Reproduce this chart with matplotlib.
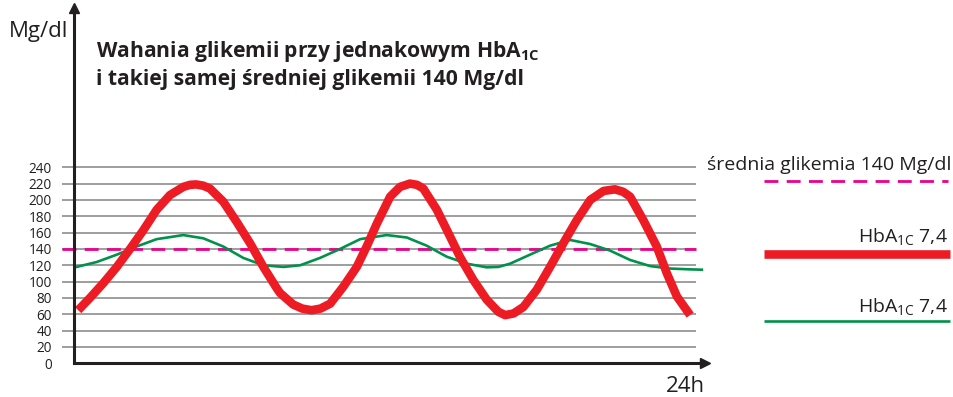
import matplotlib

matplotlib.use("Agg")
import matplotlib.pyplot as plt
from matplotlib.lines import Line2D

plt.rcParams["font.family"] = ["Open Sans", "DejaVu Sans"]
plt.rcParams["mathtext.fontset"] = "custom"
plt.rcParams["mathtext.rm"] = "Open Sans"
plt.rcParams["mathtext.bf"] = "Open Sans:bold"

# hours on the time axis, values in Mg/dl
red_hours = [0.16, 0.61, 1.12, 1.64, 2.15, 2.66, 3.17, 3.68, 4.19, 4.45, 4.68, 4.95,
             5.21, 5.72, 6.24, 6.75, 7.26, 7.77, 7.90, 8.40, 8.75, 9.11, 9.45, 9.82,
             10.33, 10.84, 11.22, 11.61, 12.12, 12.50, 12.88, 13.15, 13.39, 13.91,
             14.42, 14.80, 15.31, 15.82, 16.27, 16.53, 16.85, 17.23, 17.74, 18.25,
             18.76, 19.27, 19.79, 20.30, 20.74, 21.05, 21.32, 21.83, 22.34, 22.73,
             23.11, 23.62]
red_values = [65, 80, 98, 118, 140, 163, 188, 206, 216, 218.5, 219, 217.5,
              214, 198, 173, 147, 118, 92, 86, 72, 67, 65, 67, 73,
              94, 118, 143, 171, 204, 216, 220, 218.5, 214, 188,
              155, 130, 102, 78, 63, 59, 61, 69, 90, 118,
              147, 175, 200, 211, 213, 210, 204, 175, 143, 110,
              82, 59]

green_hours = [0.10, 0.87, 1.64, 2.40, 3.17, 4.19, 4.96, 5.72, 6.49, 7.26, 8.03,
               8.67, 9.43, 10.20, 10.97, 11.99, 12.76, 13.52, 14.29, 15.06, 15.82,
               16.27, 16.72, 17.48, 18.25, 19.02, 19.79, 20.55, 21.32, 22.09,
               22.85, 23.62, 24.07]
green_values = [118, 124, 133, 143, 152, 157, 153, 143, 129, 120, 118,
                120, 129, 140, 152, 157, 154, 144, 130.5, 122, 117.5,
                118, 122, 133, 144, 151, 146, 138, 126.5, 119,
                116, 115, 114.6]

mean_glucose = 140
y_ticks = [0, 20, 40, 60, 80, 100, 120, 140, 160, 180, 200, 220, 240]

RED = "#ED1C24"
GREEN = "#00924A"
MAGENTA = "#EC008C"
GRID = "#8e8e8e"
INK = "#231f20"

W, H = 954, 397
fig = plt.figure(figsize=(W / 100, H / 100), dpi=100)


def fx(px):
    return px / W


def fy(py):
    return 1 - py / H


ax = fig.add_axes([fx(74), fy(363.3), fx(705) - fx(74), fy(8) - fy(363.3)])
ax.set_xlim(0, 24.19)
ax.set_ylim(0, 435)
for side in ["top", "right", "left", "bottom"]:
    ax.spines[side].set_visible(False)

# grid lines start left of the axis like little ticks
ax.hlines(y_ticks[1:], -0.46, 23.85, color=GRID, lw=1.2, clip_on=False, zorder=1)
ax.hlines(mean_glucose, -0.46, 23.85, color=MAGENTA, lw=2.0, linestyles=(0, (5, 3)),
          clip_on=False, zorder=2)

ax.plot(green_hours, green_values, color=GREEN, lw=1.9, zorder=3,
        solid_joinstyle="round")
ax.plot(red_hours, red_values, color=RED, lw=6.2, zorder=4,
        solid_joinstyle="round", solid_capstyle="butt")

# axes with arrows
ax.plot([0, 0], [0, 428], color=INK, lw=2.2, clip_on=False, zorder=5)
ax.plot([0, 24.0], [0, 0], color=INK, lw=2.2, clip_on=False, zorder=5)
ax.plot(0, 1, "^", color=INK, ms=7, transform=ax.get_xaxis_transform(),
        clip_on=False, zorder=6)
ax.plot(1, 0, ">", color=INK, ms=7, transform=ax.get_yaxis_transform(),
        clip_on=False, zorder=6)

ax.set_yticks(y_ticks)
ax.set_yticklabels([str(v) for v in y_ticks], fontsize=9.8, color=INK)
ax.tick_params(axis="y", length=0, pad=16)
ax.set_xticks([])

fig.text(fx(68), fy(32), "Mg/dl", fontsize=16, ha="right", va="center", color=INK)
fig.text(fx(705), fy(386), "24h", fontsize=16, ha="right", va="center", color=INK)

fig.text(fx(96), fy(51), r"Wahania glikemii przy jednakowym HbA$_{\mathbf{1C}}$",
         fontsize=15.2, fontweight="bold", ha="left", va="center", color=INK)
fig.text(fx(96), fy(79), "i takiej samej średniej glikemii 140 Mg/dl",
         fontsize=15.2, fontweight="bold", ha="left", va="center", color=INK)

# legend on the right
fig.text(fx(951), fy(165), "średnia glikemia 140 Mg/dl", fontsize=14, ha="right",
         va="center", color=INK)
fig.add_artist(Line2D([fx(764), fx(948)], [fy(181), fy(181)], color=MAGENTA, lw=2.0,
                      linestyle=(0, (5, 3))))
fig.text(fx(948), fy(237), r"HbA$_{\mathrm{1C}}$ 7,4", fontsize=14, ha="right",
         va="center", color=INK)
fig.add_artist(Line2D([fx(764), fx(950)], [fy(254), fy(254)], color=RED, lw=6.2,
                      solid_capstyle="butt"))
fig.text(fx(948), fy(307), r"HbA$_{\mathrm{1C}}$ 7,4", fontsize=14, ha="right",
         va="center", color=INK)
fig.add_artist(Line2D([fx(764), fx(950)], [fy(321), fy(321)], color=GREEN, lw=1.9,
                      solid_capstyle="butt"))

fig.savefig("out.png", dpi=100)
